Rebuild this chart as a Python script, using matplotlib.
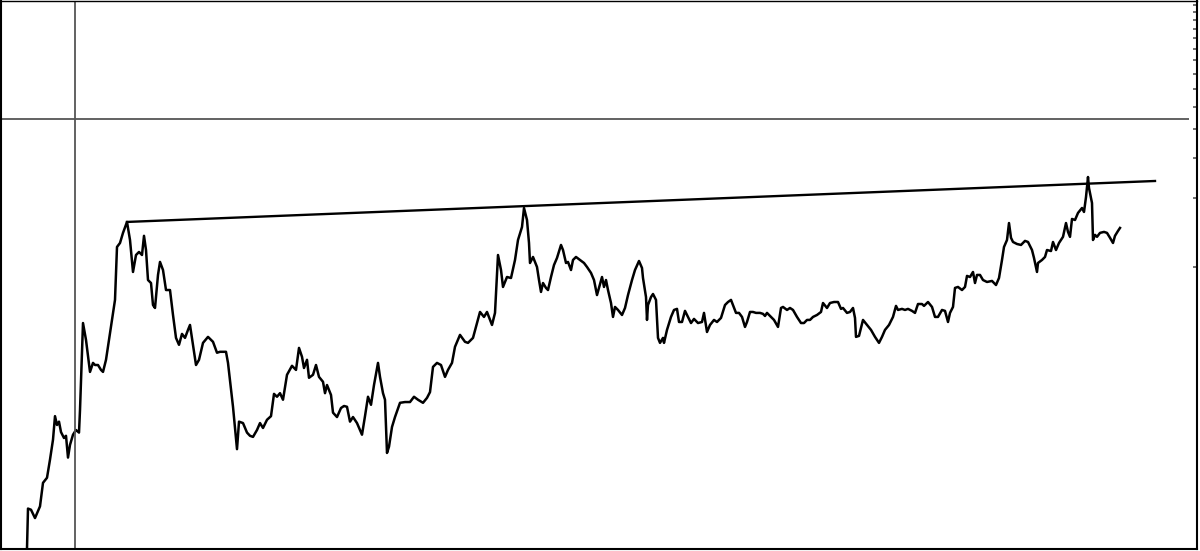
import numpy as np
import matplotlib
matplotlib.use("Agg")
import matplotlib.pyplot as plt

# price series (log scale)
day = [27, 28, 31, 35, 40, 43, 47, 50, 53, 55, 57, 59, 61, 64, 66, 68, 70, 73, 76, 79,
       80, 83, 86, 90, 93, 95, 98, 101, 103, 106, 110, 115, 117, 120, 123, 127, 130, 133, 136, 139,
       142, 144, 146, 148, 151, 153, 155, 158, 160, 163, 166, 170, 173, 176, 179, 182, 185, 188, 190, 193,
       196, 199, 203, 208, 213, 217, 220, 226, 228, 233, 237, 239, 243, 247, 250, 253, 257, 260, 263, 267,
       271, 274, 277, 280, 283, 287, 292, 296, 299, 302, 304, 307, 309, 313, 316, 319, 323, 325, 327, 331,
       333, 337, 341, 344, 347, 350, 353, 357, 362, 365, 368, 371, 374, 378, 380, 383, 385, 387, 389, 392,
       395, 400, 405, 410, 414, 418, 423, 427, 430, 433, 437, 441, 445, 448, 452, 455, 460, 465, 468, 473,
       477, 480, 484, 487, 492, 495, 498, 501, 503, 507, 511, 515, 518, 522, 524, 527, 529, 530, 533, 535,
       537, 539, 541, 543, 546, 548, 551, 554, 557, 561, 563, 566, 568, 571, 573, 576, 580, 584, 587, 591,
       594, 597, 599, 602, 604, 606, 608, 611, 613, 615, 618, 622, 625, 628, 632, 635, 639, 642, 643, 646,
       647, 648, 651, 653, 656, 658, 660, 663, 664, 667, 671, 674, 677, 679, 682, 685, 688, 691, 694, 698,
       702, 704, 707, 710, 714, 717, 721, 725, 728, 731, 733, 736, 739, 742, 745, 747, 750, 753, 756, 760,
       763, 765, 767, 771, 774, 778, 781, 783, 787, 790, 793, 797, 801, 804, 807, 810, 813, 817, 821, 823,
       827, 830, 834, 838, 841, 843, 847, 850, 853, 855, 856, 859, 863, 867, 871, 875, 879, 882, 885, 889,
       893, 896, 898, 902, 905, 908, 912, 915, 918, 922, 924, 928, 932, 935, 938, 942, 945, 948, 950, 953,
       955, 958, 962, 965, 967, 970, 973, 975, 977, 980, 983, 987, 992, 996, 999, 1002, 1004, 1007, 1009, 1011,
       1013, 1017, 1021, 1025, 1028, 1032, 1034, 1037, 1038, 1042, 1045, 1047, 1051, 1053, 1056, 1059, 1063, 1066, 1068, 1070,
       1072, 1075, 1078, 1082, 1084, 1086, 1088, 1089, 1092, 1093, 1095, 1097, 1100, 1104, 1107, 1110, 1113, 1115, 1118, 1120]

price = [59, 88, 87, 80, 90, 114, 120, 144, 176, 223, 204, 211, 190, 179, 183, 147, 167, 185, 194, 189,
         237, 569, 480, 348, 381, 373, 373, 355, 348, 393, 515, 718, 1223, 1273, 1409, 1573, 1312, 951, 1128, 1163,
         1128, 1368, 1186, 877, 851, 682, 662, 923, 1052, 970, 793, 793, 617, 490, 457, 510, 490, 531, 558, 457,
         373, 393, 466, 495, 471, 422, 426, 426, 381, 245, 160, 211, 208, 189, 183, 181, 194, 208, 198, 215,
         223, 279, 271, 281, 263, 338, 370, 355, 443, 405, 362, 393, 328, 338, 373, 331, 315, 281, 305, 276,
         231, 221, 242, 247, 245, 211, 221, 208, 185, 223, 271, 250, 305, 381, 331, 281, 263, 154, 164, 200,
         221, 255, 257, 257, 271, 263, 255, 268, 284, 366, 381, 373, 331, 355, 381, 448, 505, 471, 466, 490,
         569, 636, 605, 636, 558, 630, 1128, 970, 818, 904, 895, 1073, 1312, 1495, 1810, 1604, 1273, 1041, 1106, 1052,
         1000, 877, 778, 851, 810, 793, 904, 1020, 1095, 1248, 1186, 1041, 1052, 970, 1073, 1106, 1073, 1041, 1000, 942,
         877, 754, 810, 904, 818, 877, 793, 696, 605, 669, 649, 617, 662, 754, 877, 970, 1062, 990, 895, 739,
         587, 682, 739, 762, 718, 490, 466, 490, 466, 531, 605, 649, 656, 575, 575, 643, 605, 569, 593, 569,
         575, 630, 520, 558, 587, 575, 599, 682, 703, 718, 682, 630, 630, 605, 547, 575, 636, 636, 630, 630,
         624, 611, 630, 605, 587, 547, 662, 669, 649, 662, 649, 605, 569, 569, 587, 587, 605, 617, 636, 696,
         662, 696, 703, 703, 656, 662, 630, 636, 662, 599, 495, 500, 587, 558, 531, 495, 466, 495, 531, 558,
         605, 676, 649, 656, 649, 656, 643, 630, 689, 689, 676, 703, 669, 605, 605, 649, 643, 575, 630, 669,
         810, 818, 793, 818, 914, 904, 951, 851, 923, 923, 877, 860, 869, 834, 895, 1073, 1223, 1312, 1556, 1341,
         1286, 1260, 1248, 1300, 1286, 1186, 1095, 951, 1041, 1073, 1106, 1186, 1174, 1286, 1186, 1273, 1354, 1556, 1423, 1354,
         1621, 1604, 1722, 1810, 1739, 2021, 2472, 2213, 1903, 1312, 1381, 1354, 1409, 1423, 1409, 1341, 1273, 1368, 1437, 1481]

# resistance line through the tops
trend_day = [127, 1155]
trend_price = [1573, 2375]

# crosshair
cross_day = 75
cross_price = 4430

tick_vals = [1000 * k for k in range(1, 15)]

fig = plt.figure(figsize=(12, 5.51), dpi=100)
ax = fig.add_axes([1 / 1200, 2 / 551, 1196 / 1200, 548 / 551])

ax.plot(day, price, color="black", lw=1.8, solid_joinstyle="round")
ax.plot(trend_day, trend_price, color="black", lw=1.7)

ax.axvline(cross_day, color="#555555", lw=1.3)
ax.hlines(cross_price, 0, 1189, color="#555555", lw=1.3)

ax.set_yscale("log")
ax.set_xlim(1, 1197)
ax.set_ylim(58.6, 14520)

ax.yaxis.tick_right()
ax.set_yticks(tick_vals)
ax.set_yticklabels([])
ax.yaxis.set_minor_locator(matplotlib.ticker.NullLocator())
ax.tick_params(axis="y", direction="in", length=3, width=1.2, color="#555555")
ax.set_xticks([])

for s in ax.spines.values():
    s.set_color("black")
    s.set_linewidth(1.5)
ax.spines["top"].set_linewidth(1.0)

fig.savefig("out.png", dpi=100)
